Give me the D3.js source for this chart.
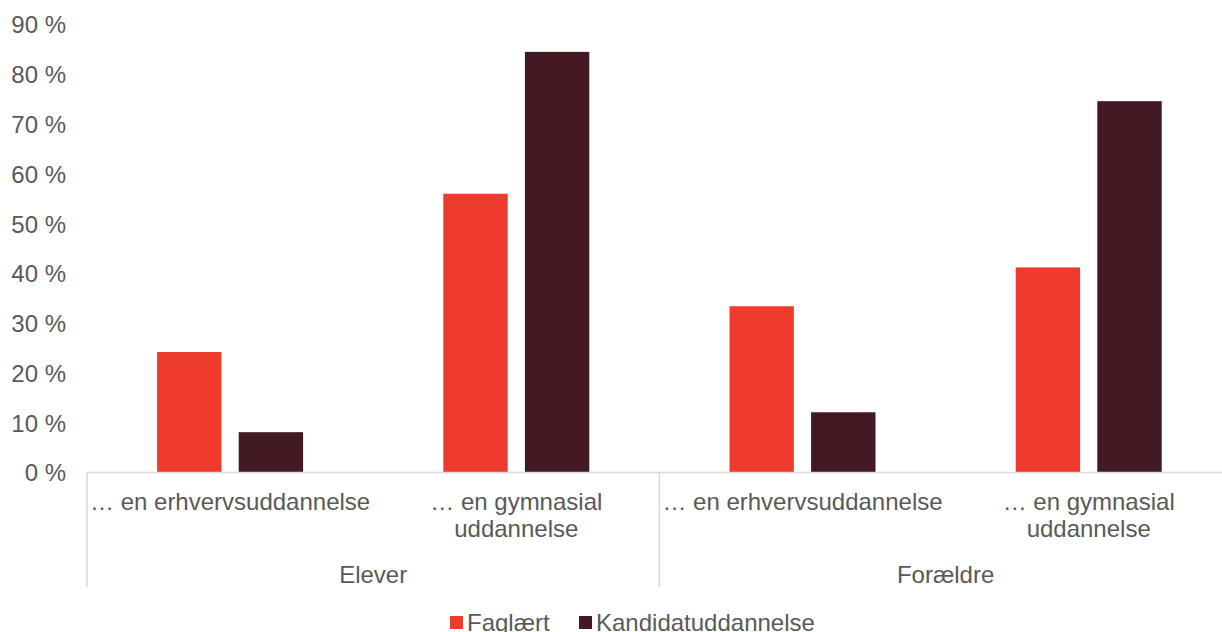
<!DOCTYPE html>
<html>
<head>
<meta charset="utf-8">
<script src="https://cdn.jsdelivr.net/npm/d3@7"></script>
<style>
  html, body { margin: 0; padding: 0; background: #fff; }
  svg { display: block; font-family: "Liberation Sans", Arial, sans-serif; }
</style>
</head>
<body>
<svg id="chart" width="1222" height="632"></svg>
<script>
// ---- data ----
const groups = ["Elever", "Forældre"];
const categories = [
  ["… en erhvervsuddannelse"],
  ["… en gymnasial", "uddannelse"]
];
const seriesNames = ["Faglært", "Kandidatuddannelse"];
const faglaert = [24.2, 56.0, 33.4, 41.2];
const kandidat = [8.1, 84.5, 12.1, 74.6];
const yTicks = [0, 10, 20, 30, 40, 50, 60, 70, 80, 90];

// ---- layout ----
const colors = ["#EE3B2E", "#431A24"];
const textColor = "#595959";
const lineColor = "#D9D9D9";
const x0 = 87, catW = 286.2;
const baseY = 472.5, topY = 24.5;

const svg = d3.select("#chart");

const rows = [];
groups.forEach((g, gi) => categories.forEach((c, ci) => rows.push({ key: gi + "-" + ci, group: g, label: c, vals: [faglaert[gi * 2 + ci], kandidat[gi * 2 + ci]] })));

const x = d3.scaleBand().domain(rows.map(r => r.key)).range([x0, x0 + catW * rows.length]).padding(0);
const xs = d3.scaleBand().domain(seriesNames).range([0, x.bandwidth()]).paddingInner(0.211).paddingOuter(0.859);
const y = d3.scaleLinear().domain([0, 90]).range([baseY, topY]);

// y tick labels
const yAxis = d3.axisLeft(y).tickValues(yTicks).tickSize(0).tickPadding(0).tickFormat(d => d + " %");
const ya = svg.append("g").attr("transform", `translate(${x0 - 21},0)`).call(yAxis);
ya.select(".domain").remove();
ya.selectAll("text").attr("fill", textColor).style("font-size", "24px").attr("dy", "0.35em");

// bars
const cat = svg.selectAll("g.cat").data(rows).join("g").attr("class", "cat")
  .attr("transform", d => `translate(${x(d.key)},0)`);
cat.selectAll("rect").data(d => d.vals.map((v, i) => ({ s: seriesNames[i], v, i })))
  .join("rect")
  .attr("x", d => xs(d.s))
  .attr("width", xs.bandwidth())
  .attr("y", d => y(d.v))
  .attr("height", d => baseY - y(d.v))
  .attr("fill", d => colors[d.i]);

// baseline
svg.append("line").attr("x1", x0).attr("x2", 1222).attr("y1", baseY).attr("y2", baseY)
  .attr("stroke", lineColor).attr("stroke-width", 1.5);

// group separators
const sepXs = [x0, x0 + catW * 2, x0 + catW * 4];
svg.selectAll("line.sep").data(sepXs).join("line").attr("class", "sep")
  .attr("x1", d => d).attr("x2", d => d).attr("y1", baseY).attr("y2", 587)
  .attr("stroke", lineColor).attr("stroke-width", 1.5);

// category labels
cat.append("text")
  .attr("x", x.bandwidth() / 2)
  .attr("text-anchor", "middle")
  .attr("fill", textColor).style("font-size", "24px")
  .selectAll("tspan").data(d => d.label).join("tspan")
  .attr("x", x.bandwidth() / 2)
  .attr("y", (d, i) => 510 + i * 27)
  .text(d => d);

// group labels
svg.selectAll("text.grp").data(groups).join("text").attr("class", "grp")
  .attr("x", (d, i) => x0 + catW * (2 * i + 1))
  .attr("y", 583)
  .attr("text-anchor", "middle")
  .attr("fill", textColor).style("font-size", "24px")
  .text(d => d);

// legend
const legX = [450, 579];
const leg = svg.selectAll("g.leg").data(seriesNames).join("g").attr("class", "leg")
  .attr("transform", (d, i) => `translate(${legX[i]},0)`);
leg.append("rect").attr("x", 0).attr("y", 616).attr("width", 13).attr("height", 13)
  .attr("fill", (d, i) => colors[i]);
leg.append("text").attr("x", 17).attr("y", 631)
  .attr("fill", textColor).style("font-size", "24px").text(d => d);
</script>
</body>
</html>
